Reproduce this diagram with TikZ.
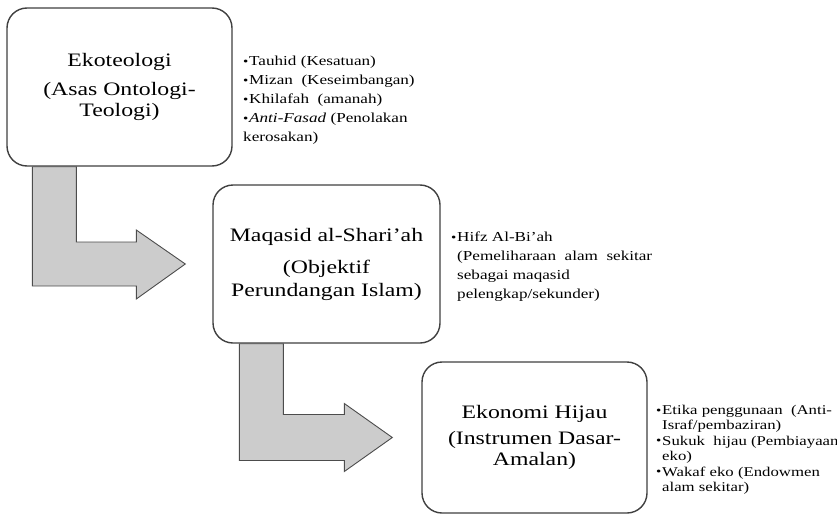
\documentclass[tikz,border=0pt]{standalone}
\usepackage{fontspec}
\setmainfont{Liberation Serif}[FakeStretch=1.25]
\usetikzlibrary{calc}
\tikzset{>=latex}
\tikzset{box/.style={draw=black!75,line width=1.4pt,rounded corners=20pt,fill=white,align=center,font=\fontsize{19}{21}\selectfont}}
\tikzset{barrow/.style={draw=black!70,line width=0.9pt,fill=black!20,line join=miter}}
\tikzset{blist/.style={align=left,anchor=north west,inner sep=0pt,font=\fontsize{13.7}{19}\selectfont}}
\newcommand\bul{\makebox[6pt][l]{\raisebox{0.5pt}{\fontsize{12}{12}\selectfont\textbullet}}}

\begin{document}
\begin{tikzpicture}[x=1pt,y=-1pt]
  \useasboundingbox (0,0) rectangle (837,519);
  % Boxes
  \node[box,minimum width=225,minimum height=158] (eko) at (119.5,87) {Ekoteologi\\[8pt](Asas Ontologi-\\Teologi)};
  \node[box,minimum width=227,minimum height=158,font=\fontsize{19}{23}\selectfont] (maq) at (326.5,264) {Maqasid al-Shari'ah\\[9pt](Objektif\\Perundangan Islam)};
  \node[box,minimum width=225,minimum height=151] (hij) at (534.5,437.5) {Ekonomi Hijau\\[5pt](Instrumen Dasar-\\Amalan)};
  % Block arrows
  \coordinate (t1) at ([xshift=-27]maq.west);
  \coordinate (t2) at ([xshift=-29]hij.west);
  \draw[barrow] ([xshift=26]eko.south west) coordinate (a1) -- ++(44,0) |- ([shift={(-49,-22)}]t1)
    -- ++(0,-12) -- (t1) -- ([shift={(-49,35)}]t1) -- ++(0,-13) -| (a1) -- cycle;
  \draw[barrow] ([xshift=27]maq.south west) coordinate (a2) -- ++(44,0) |- ([shift={(-48,-23)}]t2)
    -- ++(0,-11) -- (t2) -- ([shift={(-48,34)}]t2) -- ++(0,-11) -| (a2) -- cycle;
  % Lists
  \node[blist] (l1) at (243,56) {\bul Tauhid (Kesatuan)\\\bul Mizan\ \ (Keseimbangan)\\\bul Khilafah\ \ (amanah)\\\bul\textit{Anti-Fasad} (Penolakan\\kerosakan)};
  \node[blist] (l2) at (451,232) {\bul Hifz Al-Bi'ah\\\hspace{6pt}(Pemeliharaan\ \ alam\ \ sekitar\\\hspace{6pt}sebagai maqasid\\\hspace{6pt}pelengkap/sekunder)};
  \node[blist,font=\fontsize{13.4}{15.4}\selectfont] (l3) at (656,405) {\bul Etika penggunaan\ \ (Anti-\\\hspace{6pt}Israf/pembaziran)\\\bul Sukuk\ \ hijau (Pembiayaan\\\hspace{6pt}eko)\\\bul Wakaf eko (Endowmen\\\hspace{6pt}alam sekitar)};
\end{tikzpicture}
\end{document}
